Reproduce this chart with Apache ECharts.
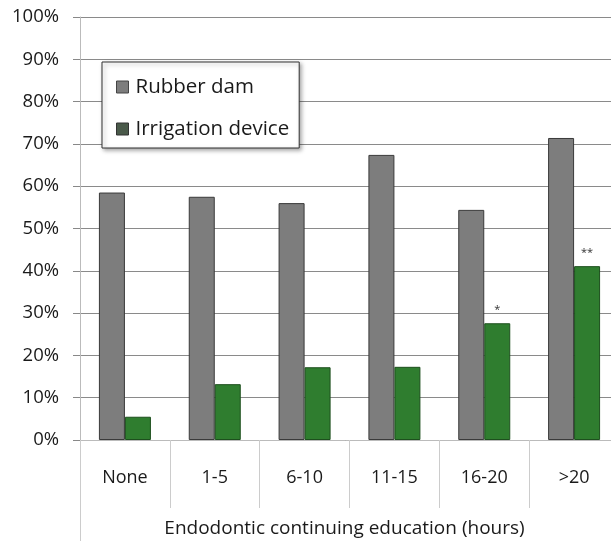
<!DOCTYPE html>
<html><head><meta charset="utf-8">
<script src="https://cdn.jsdelivr.net/npm/echarts@6/dist/echarts.min.js"></script>
<style>html,body{margin:0;padding:0;background:#fff}#c{width:611px;height:541px}</style>
</head><body><div id="c"></div>
<script>
const categories = ['None', '1-5', '6-10', '11-15', '16-20', '>20'];
const rubberDam = [58.5, 57.5, 56.0, 67.4, 54.4, 71.4];
const irrigation = [5.5, 13.2, 17.2, 17.3, 27.6, 41.1];
const significance = ['', '', '', '', '*', '**'];
const yTicks = [0, 10, 20, 30, 40, 50, 60, 70, 80, 90, 100];

const font = '"Open Sans", "Liberation Sans", sans-serif';
const chart = echarts.init(document.getElementById('c'));
chart.setOption({
  animation: false,
  backgroundColor: '#fff',
  grid: { left: 80, top: 17, width: 539, height: 423, containLabel: false, outerBoundsMode: 'none' },
  legend: {
    orient: 'vertical', left: 102, top: 62,
    padding: [13, 10, 7, 14],
    itemGap: 18, itemWidth: 12, itemHeight: 12, icon: 'rect',
    backgroundColor: '#fff', borderColor: '#333', borderWidth: 1,
    shadowColor: 'rgba(0,0,0,0.35)', shadowBlur: 4, shadowOffsetX: 2, shadowOffsetY: 2,
    textStyle: { fontFamily: font, fontSize: 20.5, lineHeight: 24, color: '#1a1a1a', padding: [0, 0, 0, 2] },
    data: [
      { name: 'Rubber dam', itemStyle: { color: '#7d7d7d', borderColor: '#444', borderWidth: 1 } },
      { name: 'Irrigation device', itemStyle: { color: '#4a5a4a', borderColor: '#333', borderWidth: 1 } }
    ]
  },
  xAxis: {
    type: 'category', data: categories,
    name: 'Endodontic continuing education (hours)',
    nameLocation: 'middle', nameGap: 79,
    nameTextStyle: { fontFamily: font, fontSize: 19, color: '#1a1a1a', padding: [0, 0, 0, -10] },
    axisLine: { show: true, lineStyle: { color: '#bbb', width: 1 } },
    axisTick: { show: true, length: 68, lineStyle: { color: '#ccc' }, alignWithLabel: false },
    axisLabel: { fontFamily: font, fontSize: 18, color: '#1a1a1a', margin: 29 }
  },
  yAxis: {
    type: 'value', min: 0, max: 100, interval: 10,
    axisLine: { show: true, lineStyle: { color: '#bbb' } },
    axisTick: { show: true, length: 7, lineStyle: { color: '#888' } },
    axisLabel: { fontFamily: font, fontSize: 18.5, color: '#1a1a1a', margin: 21,
      formatter: v => yTicks.includes(v) ? v + '%' : '' },
    splitLine: { show: true, lineStyle: { color: '#8a8a8a', width: 1 } }
  },
  graphic: [{
    type: 'line', z: 0,
    shape: { x1: 80.5, y1: 440, x2: 80.5, y2: 541 },
    style: { stroke: '#ccc', lineWidth: 1 }
  }],
  series: [
    {
      name: 'Rubber dam', type: 'bar', data: rubberDam,
      barWidth: 26, barGap: '0%',
      itemStyle: { color: '#7d7d7d', borderColor: '#3a3a3a', borderWidth: 1 }
    },
    {
      name: 'Irrigation device', type: 'bar', data: irrigation,
      barWidth: 26,
      itemStyle: { color: '#2f7d2f', borderColor: '#1d4f1d', borderWidth: 1 },
      label: { show: true, position: 'top', distance: 8, fontSize: 11, color: '#333',
        fontFamily: font, formatter: p => significance[p.dataIndex] }
    }
  ]
});
</script></body></html>
